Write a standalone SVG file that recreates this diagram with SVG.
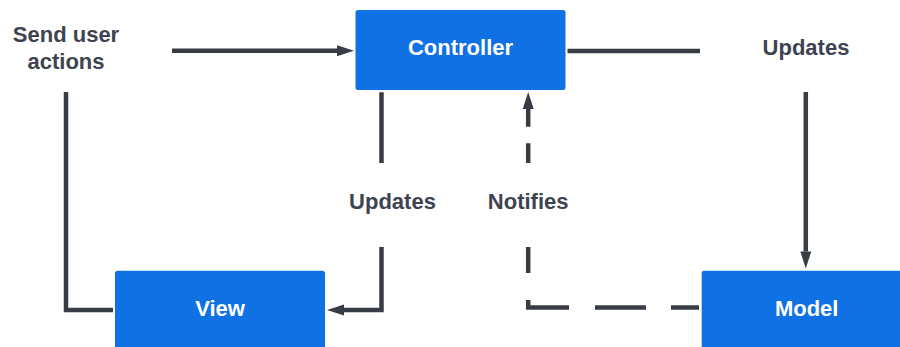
<svg xmlns="http://www.w3.org/2000/svg" width="900" height="347" viewBox="0 0 900 347">
<style>
.box{fill:#1071E5;}
.bt{font-family:"Liberation Sans",Arial,sans-serif;font-weight:bold;font-size:22px;fill:#ffffff;text-anchor:middle;}
.lt{font-family:"Liberation Sans",Arial,sans-serif;font-weight:bold;font-size:22px;fill:#3d4350;text-anchor:middle;}
.ln{fill:none;stroke:#383d45;stroke-width:4.5;stroke-linejoin:miter;}
.bg{fill:#ffffff;}
</style>
<defs>
<marker id="arr" markerUnits="userSpaceOnUse" markerWidth="18" markerHeight="12" refX="0" refY="5.5" orient="auto" overflow="visible">
<path d="M0,0 L17,5.5 L0,11 Z" fill="#383d45"/>
</marker>
</defs>
<rect width="900" height="347" fill="#ffffff"/>
<g id="connectors">
<path class="ln" d="M113,310 H66 V50.8 H337" marker-end="url(#arr)"/>
<path class="ln" d="M567.5,51 H805.8 V251.5" marker-end="url(#arr)"/>
<path class="ln" d="M381.5,92.3 V310 H344" marker-end="url(#arr)"/>
<path class="ln" d="M699,307.5 H528.2 V109" stroke-dasharray="28 25 51 26 48.3 27 50 25 54.7 16.6 100" marker-end="url(#arr)"/>
</g>
<g id="label-send">
<rect class="bg" x="-40" y="10" width="212" height="82"/>
<text class="lt" x="66" y="42">Send user</text>
<text class="lt" x="66" y="69">actions</text>
</g>
<g id="label-updates-top">
<rect class="bg" x="700" y="10" width="212" height="82"/>
<text class="lt" x="806" y="55">Updates</text>
</g>
<g id="label-updates-mid">
<rect class="bg" x="340" y="163" width="100" height="84"/>
<text class="lt" x="392.5" y="209.3">Updates</text>
</g>
<g id="label-notifies">
<rect class="bg" x="482" y="163" width="92" height="84"/>
<text class="lt" x="528.2" y="209.3">Notifies</text>
</g>
<g id="controller">
<rect class="box" x="355.5" y="10" width="210" height="80" rx="2.5"/>
<text class="bt" x="460.5" y="55">Controller</text>
</g>
<g id="view">
<rect class="box" x="115" y="270.7" width="210" height="80" rx="2.5"/>
<text class="bt" x="220" y="315.5">View</text>
</g>
<g id="model">
<rect class="box" x="701.7" y="270.7" width="210" height="80" rx="2.5"/>
<text class="bt" x="806.7" y="315.5">Model</text>
</g>
</svg>
